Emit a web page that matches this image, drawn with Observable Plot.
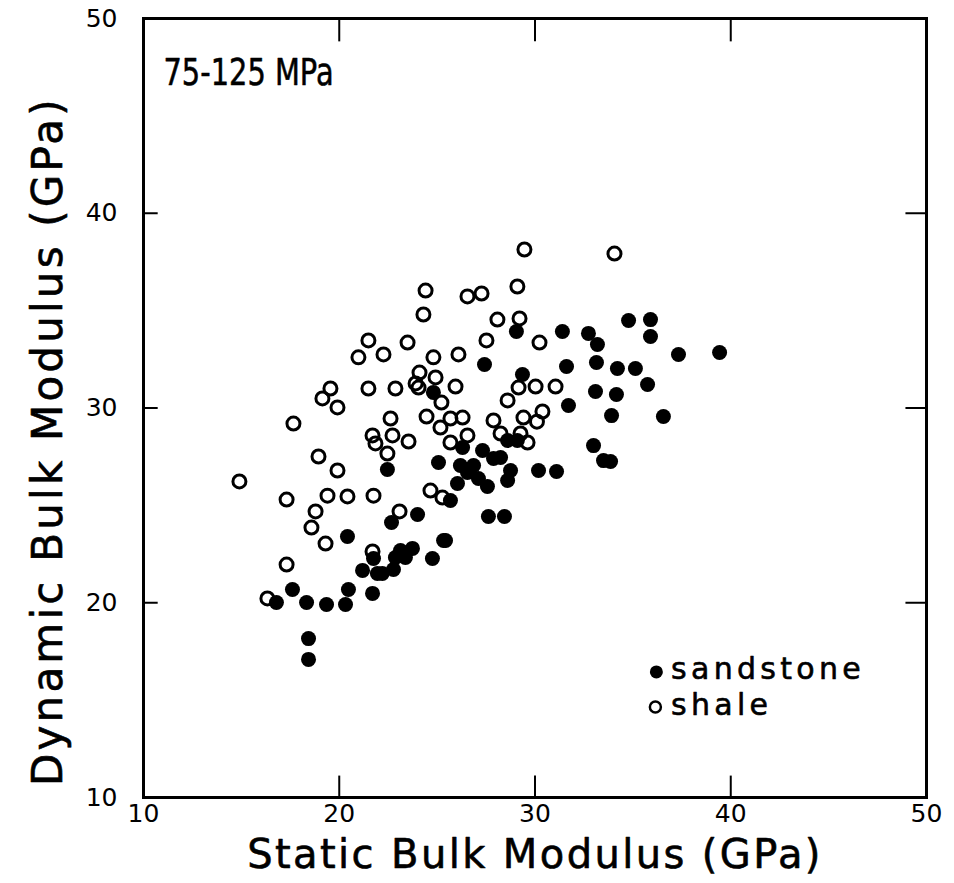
<!DOCTYPE html>
<html>
<head>
<meta charset="utf-8">
<script src="https://cdn.jsdelivr.net/npm/d3@7"></script>
<script src="https://cdn.jsdelivr.net/npm/@observablehq/plot@0.6"></script>
<style>
  html, body { margin: 0; padding: 0; background: #fff; }
  #chart svg { display: block; }
</style>
</head>
<body>
<div id="chart"></div>
<script>
// ---- data ----
const xTicks = [10, 20, 30, 40, 50];
const yTicks = [10, 20, 30, 40, 50];
const innerTicks = [20, 30, 40];
const panelLabel = "75-125 MPa";
const xTitle = "Static Bulk Modulus (GPa)";
const yTitle = "Dynamic Bulk Modulus (GPa)";
const seriesNames = ["sandstone", "shale"];

// sandstone (filled): [static, dynamic]
const sandstone = [
  [24.81,30.8],[22.46,26.84],[25.07,27.2],
  [22.67,24.12],[24.0,24.53],[20.42,23.4],[21.75,22.27],[21.19,21.66],[21.95,21.5],
  [22.2,21.5],[22.77,21.71],[22.87,22.32],[23.13,22.68],[23.38,22.32],[23.74,22.79],
  [24.76,22.27],[25.43,23.2],[17.61,20.68],[16.79,20.01],[18.33,20.01],[19.35,19.91],
  [20.32,19.91],[20.47,20.68],[21.7,20.48],[18.43,18.16],[18.43,17.09],
  [29.05,33.93],[31.4,33.93],[32.73,33.83],[33.19,33.26],[34.78,34.49],[35.9,34.54],
  [35.9,33.67],[27.42,32.23],[31.61,32.13],[33.14,32.34],[34.21,32.03],[35.13,32.03],
  [35.75,31.21],[29.36,31.72],[33.09,30.85],[34.16,30.69],[31.71,30.13],[33.91,29.61],
  [36.56,29.56],
  [32.99,28.07],[33.5,27.3],[33.86,27.25],[26.3,27.97],[27.32,27.82],[27.88,27.41],
  [28.24,27.46],[28.6,28.33],[29.1,28.33],[26.19,27.05],[26.86,27.05],[26.55,26.69],
  [27.11,26.38],[27.57,25.97],[26.04,26.12],[28.75,26.79],[28.6,26.28],[30.18,26.79],
  [31.1,26.74],[25.68,25.25],[27.62,24.43],[28.44,24.43],[25.33,23.2],
  [37.33,32.75],[39.43,32.85]
];

// shale (open): [static, dynamic]
const shale = [
  [21.49,33.47],[23.49,33.36],[20.98,32.6],[22.26,32.75],[24.81,32.6],[24.1,31.82],
  [24.92,31.57],[23.9,31.26],[24.05,31.05],[25.22,30.28],[19.55,31.0],[19.14,30.49],
  [19.91,30.03],[21.49,31.0],[22.87,31.0],[24.46,29.56],[25.17,29.0],[17.66,29.2],
  [22.62,29.46],[21.7,28.59],[21.85,28.18],[22.72,28.59],[23.54,28.28],[22.46,27.66],
  [18.94,27.51],[19.91,26.79],[14.9,26.23],[24.66,25.76],[25.27,25.4],
  [17.31,25.3],[19.4,25.5],[20.42,25.46],[21.75,25.5],[18.79,24.69],[18.58,23.86],
  [23.08,24.69],[19.3,23.04],[21.7,22.63],[17.31,21.96],[16.33,20.22],
  [29.46,38.14],[34.06,37.93],[26.55,35.73],[27.27,35.88],[29.1,36.24],[28.08,34.54],
  [29.21,34.6],[27.52,33.47],[30.23,33.36],[26.09,32.75],[25.94,31.1],[29.16,31.05],
  [30.03,31.1],[31.05,31.1],[28.6,30.39],[30.38,29.82],[29.41,29.51],[27.88,29.36],
  [26.3,29.51],[25.68,29.46],
  [26.55,28.59],[25.68,28.23],[28.24,28.69],[29.26,28.69],[29.62,28.23],[30.1,29.3],
  [24.41,36.03],[24.3,34.8]
];

const FONT = "'DejaVu Sans', sans-serif";
const ink = {fill: "#000", stroke: "#000", strokeWidth: 0.6};

const chart = Plot.plot({
  width: 954,
  height: 883,
  marginLeft: 143,
  marginRight: 28,
  marginTop: 18,
  marginBottom: 86,
  x: {domain: [10, 50]},
  y: {domain: [10, 50]},
  style: {fontFamily: FONT, background: "#fff", color: "#000", overflow: "visible"},
  marks: [
    // axis labels (no outward ticks)
    Plot.axisX({ticks: xTicks, anchor: "bottom", tickSize: 0, tickPadding: 7, fontSize: 25, label: null, ...ink}),
    Plot.axisY({ticks: yTicks, anchor: "left", tickSize: 0, tickPadding: 26, fontSize: 25, label: null, ...ink}),
    // inward ticks on all four sides
    Plot.ruleX(innerTicks, {y1: 10, y2: 11.1, strokeWidth: 2}),
    Plot.ruleX(innerTicks, {y1: 48.8, y2: 50, strokeWidth: 2}),
    Plot.ruleY(innerTicks, {x1: 10, x2: 10.75, strokeWidth: 2}),
    Plot.ruleY(innerTicks, {x1: 48.95, x2: 50, strokeWidth: 2}),
    Plot.frame({stroke: "#000", strokeWidth: 3}),
    // data
    Plot.dot(shale, {x: d => d[0], y: d => d[1], r: 6.5, stroke: "#000", strokeWidth: 3, fill: "none"}),
    Plot.dot(sandstone, {x: d => d[0], y: d => d[1], r: 7.5, fill: "#000", stroke: "none"}),
    // panel label
    Plot.text([panelLabel], {frameAnchor: "top-left", dx: 20, dy: 54, lineAnchor: "middle", textAnchor: "start", fontSize: 38, text: d => d, ...ink}),
    // legend
    Plot.dot([seriesNames[0]], {x: 36.2, y: 16.45, r: 6.5, fill: "#000", stroke: "none"}),
    Plot.dot([seriesNames[1]], {x: 36.15, y: 14.65, r: 5.5, stroke: "#000", strokeWidth: 2.5, fill: "none"}),
    Plot.text([seriesNames[0]], {x: 36.95, y: 16.45, text: d => d, textAnchor: "start", lineAnchor: "middle", fontSize: 30, dy: -2, ...ink}),
    Plot.text([seriesNames[1]], {x: 36.95, y: 14.65, text: d => d, textAnchor: "start", lineAnchor: "middle", fontSize: 30, dy: -2, ...ink}),
    // axis titles
    Plot.text([xTitle], {frameAnchor: "bottom", dy: 58, lineAnchor: "middle", fontSize: 40, text: d => d, ...ink}),
    Plot.text([yTitle], {x: 5.15, y: 28.3, rotate: -90, lineAnchor: "middle", textAnchor: "middle", fontSize: 42, text: d => d, ...ink})
  ]
});

// letter spacing / narrowing to mimic the original plotter lettering
d3.select(chart).selectAll("text").each(function() {
  const t = this.textContent;
  if (t === xTitle) this.setAttribute("letter-spacing", "2.4");
  else if (t === yTitle) this.setAttribute("letter-spacing", "3.2");
  else if (seriesNames.includes(t)) this.setAttribute("letter-spacing", "4.3");
  else if (t === panelLabel) {
    const tr = this.getAttribute("transform") || "";
    this.setAttribute("transform", tr + " scale(0.76,1)");
  }
});

document.getElementById("chart").appendChild(chart);
</script>
</body>
</html>
